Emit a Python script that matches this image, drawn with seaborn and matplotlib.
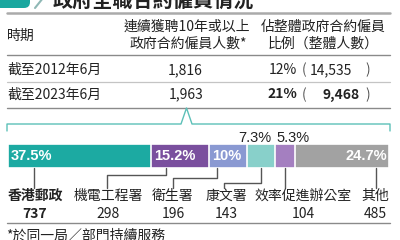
import matplotlib
matplotlib.use("Agg")
import matplotlib.pyplot as plt
import matplotlib.patches as mpatches
import numpy as np
import seaborn as sns

# ---------------- data ----------------
title = "政府全職合約僱員情況"
col_headers = ["時期", "連續獲聘10年或以上\n政府合約僱員人數*", "佔整體政府合約僱員\n比例（整體人數）"]
periods = ["截至2012年6月", "截至2023年6月"]
long_term = ["1,816", "1,963"]
ratio_pct = ["12%", "21%"]
totals = ["14,535", "9,468"]

departments = ["香港郵政", "機電工程署", "衛生署", "康文署", "效率促進辦公室", "其他"]
counts = [737, 298, 196, 143, 104, 485]
shares = [37.5, 15.2, 10, 7.3, 5.3, 24.7]
share_labels = ["37.5%", "15.2%", "10%", "7.3%", "5.3%", "24.7%"]
footnote = "*於同一局／部門持續服務"

# ---------------- style ----------------
sns.set_theme(style="white")
plt.rcParams['font.family'] = ['Noto Sans CJK TC', 'DejaVu Sans']

colors = ["#1caaa2", "#7a4f9e", "#8a99d2", "#88d0ca", "#a47fc0", "#a2a2a2"]
txt = "#222222"
fs = 10
nw = 500  # slightly heavier regular text
lat = ["Liberation Sans", "DejaVu Sans"]

fig = plt.figure(figsize=(4, 2.4), dpi=100)

# stacked bar axes
bax = fig.add_axes([8 / 400, (240 - 168) / 240, 381 / 400, 24 / 240])
cum = np.cumsum(shares)
for i in reversed(range(len(shares))):
    sns.barplot(x=[cum[i]], y=["all"], color=colors[i], width=1, saturation=1,
                edgecolor="white", linewidth=1.2, orient="h", ax=bax)
bax.set_xlim(0, 100)
bax.set_ylim(0.5, -0.5)
bax.axis("off")
bax.set_zorder(1)

ax = fig.add_axes([0, 0, 1, 1])
ax.set_xlim(0, 400)
ax.set_ylim(240, 0)
ax.axis("off")
ax.set_zorder(2)
ax.patch.set_alpha(0)


def bar_px(xv):
    d = bax.transData.transform((xv, 0))
    return ax.transData.inverted().transform(d)[0]


# ---------------- header / icon ----------------
icon = mpatches.FancyBboxPatch((-6, -10), 36, 18, boxstyle="round,pad=0,rounding_size=6",
                               facecolor="#1aa79f", edgecolor="none")
ax.add_patch(icon)
ax.plot([43, 35], [-2, 8], color="#8fb8b5", lw=1.5, solid_capstyle="round")
ax.text(53, 7, title, fontsize=14.5, fontweight="bold", color=txt, ha="left", va="baseline")

# table lines
ax.plot([7, 390], [13, 13], color="#aaaaaa", lw=1.8)
ax.plot([7, 390], [55, 55], color="#8a8a8a", lw=1.0)
ax.plot([7, 390], [81.5, 81.5], color="#c4c4c4", lw=0.9)
ax.plot([7, 390], [108, 108], color="#8a8a8a", lw=1.0)
ax.plot([7, 390], [223, 223], color="#8a8a8a", lw=1.0)

# headers
ax.text(7, 36, col_headers[0], fontsize=fs, color=txt, ha="left", va="center", fontweight=nw)
h1 = col_headers[1].split("\n")
ax.text(187, 27, h1[0], fontsize=fs, color=txt, ha="center", va="center", fontweight=nw)
ax.text(188, 44, h1[1], fontsize=fs, color=txt, ha="center", va="center", fontweight=nw)
h2 = col_headers[2].split("\n")
ax.text(323, 27, h2[0], fontsize=fs, color=txt, ha="center", va="center", fontweight=nw)
ax.text(323, 44, h2[1], fontsize=fs, color=txt, ha="center", va="center", fontweight=nw)

# rows
row_y = [70, 94.5]
num_x = [331, 341]
for i in range(2):
    w = "bold" if i == 1 else nw
    y = row_y[i]
    ax.text(7, y, periods[i], fontsize=fs, color=txt, ha="left", va="center", fontweight=nw)
    ax.text(203, y, long_term[i], fontsize=fs, color=txt, ha="right", va="center", fontweight=nw)
    ax.text(297, y, ratio_pct[i], fontsize=fs, color=txt, ha="right", va="center", fontweight=w)
    ax.text(304, y, "(", fontsize=fs, color="#555555", ha="center", va="center")
    ax.text(num_x[i], y, totals[i], fontsize=fs, color=txt, ha="center", va="center", fontweight=w)
    ax.text(368, y, ")", fontsize=fs, color="#555555", ha="center", va="center")

# teal bracket
ax.plot([7, 7, 181, 186.5, 192, 390, 390], [131, 124, 124, 108, 124, 124, 131],
        color="#5cc0b8", lw=1.0)

# ---------------- bar labels ----------------
lefts = cum - np.array(shares)
bar_mid_y = 156.5
for i in [0, 1, 2]:
    ax.text(bar_px(lefts[i]) + 3, bar_mid_y, share_labels[i], fontsize=fs + 0.5, color="white",
            fontweight="bold", ha="left", va="center", family=lat)
ax.text(bar_px(100) - 2, bar_mid_y, share_labels[5], fontsize=fs + 0.5, color="white",
        fontweight="bold", ha="right", va="center", family=lat)
above_shift = {3: -6, 4: 8}
for i, dx in above_shift.items():
    ax.text(bar_px(lefts[i] + shares[i] / 2) + dx, 137.5, share_labels[i], fontsize=fs + 0.5,
            color=txt, ha="center", va="center", family=lat)

# leader lines (layout positions in pixels)
leader_start = [34, 166, 217, 261, 285, 376]
leader_turn_y = [None, 175, 178, 183, None, None]
label_x = [35, 108, 173, 226, 303, 375]
line_x_end = [34, 107, 173, 224, 285, 376]
for i in range(6):
    xs, ys = [leader_start[i]], [168]
    if leader_turn_y[i] is not None:
        xs += [leader_start[i], line_x_end[i]]
        ys += [leader_turn_y[i], leader_turn_y[i]]
    xs.append(line_x_end[i])
    ys.append(188)
    ax.plot(xs, ys, color="#555555", lw=1.0)

for i in range(6):
    w = "bold" if i == 0 else nw
    ax.text(label_x[i], 196, departments[i], fontsize=fs, color=txt, ha="center",
            va="center", fontweight=w)
    ax.text(label_x[i], 214, f"{counts[i]}", fontsize=fs, color=txt, ha="center",
            va="center", fontweight=w)

ax.text(6, 235.5, footnote, fontsize=fs, color=txt, ha="left", va="center", fontweight=nw)

fig.savefig("out.png", dpi=100)
